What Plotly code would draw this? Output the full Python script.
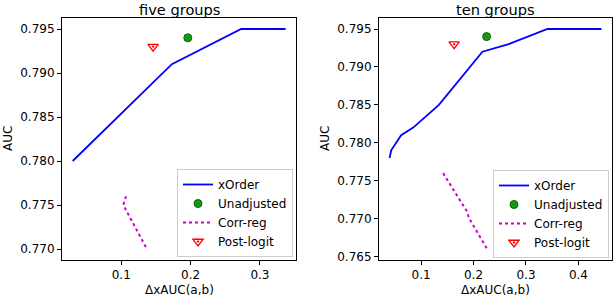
import plotly.graph_objects as go
from plotly.subplots import make_subplots

# ---- data: five groups ----
five_xorder_x = [0.030, 0.173, 0.273, 0.337]
five_xorder_y = [0.780, 0.791, 0.795, 0.795]
five_unadj_x = [0.196]
five_unadj_y = [0.794]
five_corr_x = [0.107, 0.103, 0.137]
five_corr_y = [0.776, 0.775, 0.770]
five_post_x = [0.146]
five_post_y = [0.793]

# ---- data: ten groups ----
ten_xorder_x = [0.040, 0.043, 0.062, 0.085, 0.134, 0.217, 0.267, 0.341, 0.444]
ten_xorder_y = [0.778, 0.779, 0.781, 0.782, 0.785, 0.792, 0.793, 0.795, 0.795]
ten_unadj_x = [0.225]
ten_unadj_y = [0.794]
ten_corr_x = [0.142, 0.187, 0.192, 0.226]
ten_corr_y = [0.776, 0.771, 0.770, 0.766]
ten_post_x = [0.163]
ten_post_y = [0.793]

titles = ["five groups", "ten groups"]
x_label = "ΔxAUC(a,b)"
y_label = "AUC"
names = ["xOrder", "Unadjusted", "Corr-reg", "Post-logit"]

FONT = "DejaVu Sans"
W, H = 614, 298
ML, MR, MT, MB = 62, 2, 18, 38
PW = W - ML - MR
PH = H - MT - MB

fig = make_subplots(rows=1, cols=2, horizontal_spacing=0.0)


def add_panel(col, xo, yo, ux, uy, cx, cy, px, py, leg):
    fig.add_trace(go.Scatter(x=xo, y=yo, mode="lines", name=names[0],
                             line=dict(color="#0000ff", width=1.8), legend=leg),
                  row=1, col=col)
    fig.add_trace(go.Scatter(x=ux, y=uy, mode="markers", name=names[1],
                             marker=dict(symbol="circle-dot", color="#1a9a1a", size=8,
                                         line=dict(color="#006400", width=1)), legend=leg),
                  row=1, col=col)
    fig.add_trace(go.Scatter(x=cx, y=cy, mode="lines", name=names[2],
                             line=dict(color="#cc00cc", width=2, dash="dot"), legend=leg),
                  row=1, col=col)
    fig.add_trace(go.Scatter(x=px, y=py, mode="markers", name=names[3],
                             marker=dict(symbol="triangle-down-open-dot", color="#ff0000", size=9,
                                         line=dict(color="#ff0000", width=1.3)), legend=leg),
                  row=1, col=col)


add_panel(1, five_xorder_x, five_xorder_y, five_unadj_x, five_unadj_y,
          five_corr_x, five_corr_y, five_post_x, five_post_y, "legend")
add_panel(2, ten_xorder_x, ten_xorder_y, ten_unadj_x, ten_unadj_y,
          ten_corr_x, ten_corr_y, ten_post_x, ten_post_y, "legend2")

axis_common = dict(showgrid=False, zeroline=False, showline=True, linecolor="black",
                   linewidth=1, mirror=True, ticks="outside", ticklen=4, tickcolor="black",
                   tickfont=dict(family=FONT, size=12, color="black"))

left_dom = [0, 234 / PW]
right_dom = [(379 - ML) / PW, 1.0]

fig.update_xaxes(**axis_common)
fig.update_yaxes(**axis_common)
fig.update_xaxes(domain=left_dom, range=[0.0146, 0.352], tickvals=[0.1, 0.2, 0.3],
                 ticktext=["0.1", "0.2", "0.3"], row=1, col=1)
fig.update_xaxes(domain=right_dom, range=[0.0198, 0.464], tickvals=[0.1, 0.2, 0.3, 0.4],
                 ticktext=["0.1", "0.2", "0.3", "0.4"], row=1, col=2)
fig.update_yaxes(range=[0.76875, 0.79625], tickvals=[0.770, 0.775, 0.780, 0.785, 0.790, 0.795],
                 tickformat=".3f", row=1, col=1)
fig.update_yaxes(range=[0.76455, 0.79645],
                 tickvals=[0.765, 0.770, 0.775, 0.780, 0.785, 0.790, 0.795],
                 tickformat=".3f", row=1, col=2)

legend_common = dict(bgcolor="rgba(255,255,255,0.8)", bordercolor="#cccccc", borderwidth=1,
                     font=dict(family=FONT, size=12, color="black"),
                     xanchor="right", yanchor="bottom", xref="paper", yref="paper",
                     itemwidth=30, tracegroupgap=0)

annotations = []
for i, dom in enumerate([left_dom, right_dom]):
    cx = (dom[0] + dom[1]) / 2
    annotations.append(dict(text=titles[i], x=cx, y=1 + MT / PH, xref="paper", yref="paper",
                            xanchor="center", yanchor="top", yshift=0, borderpad=0,
                            showarrow=False,
                            font=dict(family=FONT, size=14.6, color="black")))
    annotations.append(dict(text=x_label, x=cx, y=(H - MB - 290) / PH, xref="paper", yref="paper",
                            xanchor="center", yanchor="middle", showarrow=False,
                            font=dict(family=FONT, size=12, color="black")))
annotations.append(dict(text=y_label, x=(8 - ML) / PW, y=0.5, xref="paper", yref="paper",
                        textangle=-90, xanchor="center", yanchor="middle", showarrow=False,
                        font=dict(family=FONT, size=12, color="black")))
annotations.append(dict(text=y_label, x=(325 - ML) / PW, y=0.5, xref="paper", yref="paper",
                        textangle=-90, xanchor="center", yanchor="middle", showarrow=False,
                        font=dict(family=FONT, size=12, color="black")))

fig.update_layout(
    width=W, height=H,
    margin=dict(l=ML, r=MR, t=MT, b=MB),
    paper_bgcolor="white", plot_bgcolor="white",
    font=dict(family=FONT, size=12, color="black"),
    legend=dict(x=(293 - ML) / PW, y=(H - MB - 257) / PH, **legend_common),
    legend2=dict(x=(609 - ML) / PW, y=(H - MB - 258) / PH, **legend_common),
    annotations=annotations,
)

fig.write_html("out.html", config={"displayModeBar": False},
               post_script="document.body.style.margin='0';document.body.style.overflow='hidden';")
